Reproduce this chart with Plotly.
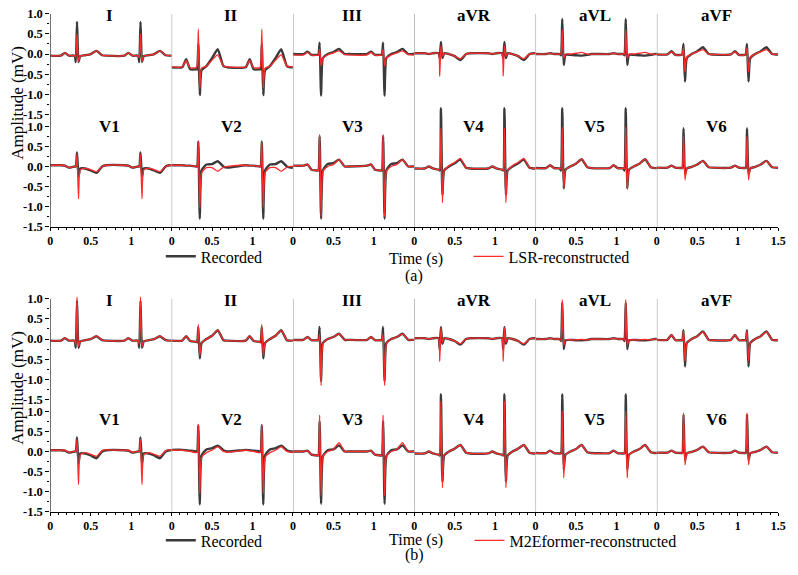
import plotly.graph_objects as go

# ---------------- data ----------------
LEADS = ["I", "II", "III", "aVR", "aVL", "aVF", "V1", "V2", "V3", "V4", "V5", "V6"]
R_TIMES = [0.33, 1.115]          # R-peak times (s) in every panel
# beat landmarks relative to R peak (s): P on, P peak, P end, Q on, Q, R, S, J, ST, T on, T peak, T end, base
OFFSETS = [-0.20, -0.15, -0.10, -0.03, -0.015, 0.0, 0.018, 0.04, 0.10, 0.17, 0.24, 0.31, 0.36]
X_TICKS = [0, 0.5, 1]
X_TICKS_LAST = [0, 0.5, 1, 1.5]
Y_TICKS = [1.0, 0.5, 0.0, -0.5, -1.0, -1.5]
Y_TICK_TEXT = ["1.0", "0.5", "0.0", "-0.5", "-1.0", "-1.5"]

# (a) recorded
REC_A_I = [-0.04, 0.03, -0.04, -0.04, -0.2, 0.8, -0.2, -0.05, -0.03, 0.0, 0.08, -0.03, -0.04]
REC_A_II = [-0.33, -0.13, -0.38, -0.38, -0.38, 0.25, -1.02, -0.4, -0.3, -0.1, 0.12, -0.3, -0.33]
REC_A_III = [0.0, 0.06, -0.02, -0.02, -0.02, 0.28, -1.03, -0.1, 0.0, 0.05, 0.13, 0.0, 0.0]
REC_A_aVR = [0.02, 0.0, 0.02, 0.02, -0.1, 0.3, -0.1, 0.02, 0.0, -0.05, -0.15, 0.0, 0.02]
REC_A_aVL = [0.0, 0.02, 0.0, 0.0, -0.03, 0.87, -0.27, -0.02, -0.02, -0.03, -0.04, -0.02, 0.0]
REC_A_aVF = [-0.01, 0.07, -0.02, -0.02, 0.0, 0.25, -0.68, -0.1, 0.0, 0.07, 0.17, 0.0, -0.01]
REC_A_V1 = [0.03, 0.02, -0.03, 0.0, 0.0, 0.35, -0.25, -0.05, -0.05, -0.1, -0.16, 0.0, 0.03]
REC_A_V2 = [0.03, 0.02, 0.02, 0.0, 0.0, 0.62, -1.3, -0.1, 0.05, 0.06, 0.13, 0.0, -0.03]
REC_A_V3 = [0.02, 0.05, -0.08, -0.1, -0.1, 0.75, -1.3, -0.1, 0.06, 0.08, 0.17, 0.0, 0.0]
REC_A_V4 = [-0.05, 0.0, -0.05, -0.08, -0.1, 1.45, -0.7, -0.1, 0.0, 0.08, 0.17, -0.03, -0.05]
REC_A_V5 = [-0.04, 0.03, -0.04, -0.05, -0.1, 1.45, -0.55, -0.08, 0.0, 0.07, 0.18, -0.02, -0.04]
REC_A_V6 = [-0.03, 0.02, -0.03, -0.04, -0.04, 0.95, -0.2, -0.05, -0.01, 0.05, 0.14, -0.02, -0.03]

# (a) LSR-reconstructed
LSR_I = [-0.04, 0.03, -0.04, -0.04, -0.08, 0.5, -0.18, -0.05, -0.03, 0.0, 0.08, -0.03, -0.04]
LSR_II = [-0.32, -0.16, -0.34, -0.34, -0.3, 0.62, -0.85, -0.35, -0.3, -0.15, -0.02, -0.3, -0.32]
LSR_III = [-0.02, 0.04, -0.03, -0.03, -0.03, 0.12, -0.3, -0.1, -0.02, 0.03, 0.08, -0.01, -0.02]
LSR_aVR = [0.02, 0.0, 0.02, 0.02, -0.55, 0.2, -0.05, 0.02, 0.0, -0.05, -0.12, 0.0, 0.02]
LSR_aVL = [0.0, 0.02, 0.0, 0.0, 0.0, 0.6, -0.1, 0.0, 0.0, 0.02, 0.04, 0.0, 0.0]
LSR_aVF = [-0.01, 0.06, -0.02, -0.02, 0.0, 0.15, -0.45, -0.08, 0.0, 0.06, 0.11, 0.0, -0.01]
LSR_V1 = [0.03, 0.02, -0.03, 0.0, 0.0, 0.3, -0.8, -0.08, -0.05, -0.08, -0.13, 0.0, 0.03]
LSR_V2 = [0.03, 0.02, 0.02, 0.0, 0.0, 0.62, -1.02, -0.15, -0.03, -0.03, -0.12, -0.02, 0.0]
LSR_V3 = [0.02, 0.05, -0.08, -0.1, -0.1, 0.8, -1.25, -0.12, 0.0, 0.05, 0.17, 0.0, 0.0]
LSR_V4 = [-0.05, 0.0, -0.05, -0.08, -0.1, 0.95, -0.9, -0.1, 0.02, 0.1, 0.2, -0.03, -0.05]
LSR_V5 = [-0.04, 0.03, -0.04, -0.05, -0.05, 0.98, -0.55, -0.08, 0.0, 0.07, 0.18, -0.02, -0.04]
LSR_V6 = [-0.03, 0.02, -0.03, -0.04, -0.04, 0.75, -0.33, -0.05, -0.01, 0.05, 0.14, -0.02, -0.03]

# (b) recorded
REC_B_I = [-0.04, 0.02, -0.04, -0.04, -0.22, 0.95, -0.22, -0.06, -0.03, 0.0, 0.07, -0.03, -0.04]
REC_B_II = [-0.04, 0.07, -0.05, -0.07, -0.08, 0.3, -0.48, -0.1, 0.0, 0.08, 0.22, -0.03, -0.04]
REC_B_III = [-0.02, 0.05, -0.03, -0.03, -0.03, 0.3, -1.05, -0.1, 0.0, 0.05, 0.13, -0.02, -0.02]
REC_B_aVR = [0.02, 0.0, 0.02, 0.02, -0.25, 0.3, -0.12, 0.02, 0.0, -0.05, -0.14, 0.0, 0.02]
REC_B_aVL = [0.0, 0.02, 0.0, 0.0, -0.05, 0.9, -0.25, -0.03, -0.02, -0.03, -0.03, -0.02, 0.0]
REC_B_aVF = [-0.02, 0.1, -0.03, -0.03, -0.03, 0.22, -0.68, -0.1, 0.0, 0.07, 0.19, -0.02, -0.03]
REC_B_V1 = [0.03, 0.02, -0.03, 0.0, 0.0, 0.35, -0.3, -0.05, -0.05, -0.1, -0.17, 0.0, 0.03]
REC_B_V2 = [0.04, 0.03, 0.02, 0.0, 0.0, 0.65, -1.32, -0.1, 0.05, 0.08, 0.14, 0.03, 0.0]
REC_B_V3 = [0.0, 0.02, -0.08, -0.1, -0.1, 0.75, -1.3, -0.12, 0.03, 0.05, 0.15, 0.0, 0.0]
REC_B_V4 = [-0.05, 0.0, -0.05, -0.08, -0.1, 1.42, -0.75, -0.1, 0.0, 0.07, 0.16, -0.03, -0.05]
REC_B_V5 = [-0.04, 0.02, -0.04, -0.05, -0.05, 1.42, -0.45, -0.08, 0.0, 0.06, 0.16, -0.02, -0.04]
REC_B_V6 = [-0.03, 0.02, -0.03, -0.04, -0.04, 0.92, -0.22, -0.05, -0.01, 0.04, 0.12, -0.02, -0.03]

# (b) M2Eformer-reconstructed
M2E_I = [-0.04, 0.02, -0.04, -0.04, -0.12, 1.05, -0.18, -0.06, -0.03, 0.0, 0.08, -0.03, -0.04]
M2E_II = [-0.04, 0.07, -0.05, -0.07, -0.08, 0.36, -0.4, -0.1, 0.0, 0.08, 0.22, -0.03, -0.04]
M2E_III = [-0.02, 0.05, -0.03, -0.03, -0.03, 0.12, -1.15, -0.12, 0.0, 0.05, 0.13, -0.02, -0.02]
M2E_aVR = [0.02, 0.0, 0.02, 0.02, -0.55, 0.28, -0.08, 0.02, 0.0, -0.05, -0.12, 0.0, 0.02]
M2E_aVL = [0.0, 0.02, 0.0, 0.0, -0.02, 0.98, -0.15, -0.02, -0.02, -0.02, -0.01, -0.02, 0.0]
M2E_aVF = [-0.02, 0.1, -0.03, -0.03, -0.03, 0.2, -0.55, -0.1, 0.0, 0.07, 0.18, -0.02, -0.03]
M2E_V1 = [0.03, 0.03, -0.02, 0.0, 0.0, 0.3, -0.82, -0.08, -0.03, -0.07, -0.12, 0.02, 0.04]
M2E_V2 = [0.03, 0.02, 0.0, -0.03, -0.03, 0.68, -1.05, -0.15, -0.03, 0.03, 0.12, 0.0, -0.02]
M2E_V3 = [0.0, 0.02, -0.08, -0.1, -0.1, 0.9, -1.1, -0.12, 0.0, 0.05, 0.22, 0.0, 0.0]
M2E_V4 = [-0.05, 0.0, -0.05, -0.08, -0.1, 1.25, -0.9, -0.1, 0.0, 0.07, 0.16, -0.03, -0.05]
M2E_V5 = [-0.04, 0.02, -0.04, -0.05, -0.05, 1.0, -0.65, -0.08, 0.0, 0.06, 0.16, -0.02, -0.04]
M2E_V6 = [-0.03, 0.02, -0.03, -0.04, -0.04, 0.95, -0.33, -0.05, -0.01, 0.04, 0.12, -0.02, -0.03]

REC_A = [REC_A_I, REC_A_II, REC_A_III, REC_A_aVR, REC_A_aVL, REC_A_aVF,
         REC_A_V1, REC_A_V2, REC_A_V3, REC_A_V4, REC_A_V5, REC_A_V6]
REC_B = [REC_B_I, REC_B_II, REC_B_III, REC_B_aVR, REC_B_aVL, REC_B_aVF,
         REC_B_V1, REC_B_V2, REC_B_V3, REC_B_V4, REC_B_V5, REC_B_V6]
LSR = [LSR_I, LSR_II, LSR_III, LSR_aVR, LSR_aVL, LSR_aVF,
       LSR_V1, LSR_V2, LSR_V3, LSR_V4, LSR_V5, LSR_V6]
M2E = [M2E_I, M2E_II, M2E_III, M2E_aVR, M2E_aVL, M2E_aVF,
       M2E_V1, M2E_V2, M2E_V3, M2E_V4, M2E_V5, M2E_V6]

PARTS = [
    dict(rec=REC_A, recon=LSR, recon_name="LSR-reconstructed", label="(a)"),
    dict(rec=REC_B, recon=M2E, recon_name="M2Eformer-reconstructed", label="(b)"),
]

# ---------------- layout geometry (pixels) ----------------
W, H = 798, 575
X_LEFT, COL_W = 48, 123
ROWS_PX = [[(13, 115), (127, 229)], [(302, 404), (416, 518)]]   # (y of 1.0, y of -1.5)
ROW_YMAX = [1.15, 1.65]
TITLE_Y_PX = [[14.5, 127.5], [304, 424]]
AMP_Y_PX = [103, 392]
TIME_Y_PX = [262, 547]
LAB_Y_PX = [279, 562]
LEG_Y_PX = [259, 547]
LEG_TEXT_X = [200, 512]

SERIF = "Liberation Serif"
GRAY = "#3a3a3a"
RED = "#ff2a2a"


def py(px):
    return 1 - px / H


def px_x(px):
    return px / W


def panel_series(tmpl):
    t = [0.0]
    v = [tmpl[0]]
    for r in R_TIMES:
        for o, a in zip(OFFSETS, tmpl):
            t.append(r + o)
            v.append(a)
    t.append(1.5)
    v.append(tmpl[-1])
    return t, v


fig = go.Figure()
layout = dict()
shapes = []
annotations = []
X_TICK_FONT = dict(family=SERIF, size=12, color="black", weight="bold")
Y_TICK_FONT = dict(family=SERIF, size=12.5, color="black", weight="bold")

for p, part in enumerate(PARTS):
    for row in range(2):
        top_px, bot_px = ROWS_PX[p][row]
        ppm = (bot_px - top_px) / 2.5
        ymax = ROW_YMAX[row]
        dom_top = top_px - (ymax - 1.0) * ppm
        ydom = [py(bot_px), py(dom_top)]
        for col in range(6):
            n = p * 12 + row * 6 + col + 1
            li = row * 6 + col
            sx = "" if n == 1 else str(n)
            xd = [px_x(X_LEFT + COL_W * col), px_x(X_LEFT + COL_W * (col + 1))]
            bottom = row == 1
            tv = X_TICKS_LAST if col == 5 else X_TICKS
            layout["xaxis" + sx] = dict(
                domain=xd, range=[0, 1.5], anchor="y" + sx, fixedrange=True,
                showgrid=False, zeroline=False, visible=bottom,
                showline=bottom, linecolor="black", linewidth=1,
                ticks="outside" if bottom else "", ticklen=3, tickcolor="black",
                tickvals=tv, ticktext=[("%g" % v) for v in tv],
                tickfont=X_TICK_FONT, ticklabeloverflow="allow",
                minor=dict(dtick=0.1, tick0=0, ticks="outside" if bottom else "",
                           ticklen=2, tickcolor="black"),
            )
            first = col == 0
            layout["yaxis" + sx] = dict(
                domain=ydom, range=[-1.5, ymax], anchor="x" + sx, fixedrange=True,
                showgrid=False, zeroline=False, showline=False, showticklabels=first,
                ticks="outside" if first else "", ticklen=4, tickcolor="black",
                tickvals=Y_TICKS, ticktext=Y_TICK_TEXT, tickfont=Y_TICK_FONT,
                minor=dict(tickvals=[0.75, 0.25, -0.25, -0.75, -1.25],
                           ticks="outside" if first else "", ticklen=2, tickcolor="black"),
            )
            t, v = panel_series(part["rec"][li])
            fig.add_trace(go.Scatter(
                x=t, y=v, mode="lines", xaxis="x" + sx, yaxis="y" + sx,
                line=dict(color=GRAY, width=2.4, shape="spline", smoothing=0.5),
                name="Recorded", showlegend=(li == 0),
                legend="legend" if p == 0 else "legend3", hoverinfo="skip"))
            t, v = panel_series(part["recon"][li])
            fig.add_trace(go.Scatter(
                x=t, y=v, mode="lines", xaxis="x" + sx, yaxis="y" + sx,
                line=dict(color=RED, width=1.3, shape="spline", smoothing=0.5),
                name=part["recon_name"], showlegend=(li == 0),
                legend="legend2" if p == 0 else "legend4", hoverinfo="skip"))
            annotations.append(dict(
                text=LEADS[li], xref="x" + sx + " domain", x=0.49, xanchor="center",
                yref="paper", y=py(TITLE_Y_PX[p][row]), yanchor="middle", showarrow=False,
                font=dict(family=SERIF, size=17, color="black", weight="bold")))

    # vertical panel separators and left axis line
    span = [py(ROWS_PX[p][1][1]), py(ROWS_PX[p][0][0])]
    for col in range(6):
        n = p * 12 + col + 1
        sx = "" if n == 1 else str(n)
        shapes.append(dict(
            type="line", xref="x" + sx, x0=0, x1=0, yref="paper", y0=span[0], y1=span[1],
            line=dict(color="black" if col == 0 else "#8a8a8a", width=1)))

    annotations.append(dict(
        text="Amplitude (mV)", xref="paper", x=px_x(14.5), xanchor="center",
        yref="paper", y=py(AMP_Y_PX[p]), yanchor="middle", textangle=-90, showarrow=False,
        font=dict(family=SERIF, size=17, color="black")))
    annotations.append(dict(
        text="Time (s)", xref="paper", x=px_x(419), xanchor="center",
        yref="paper", y=py(TIME_Y_PX[p]), yanchor="middle", showarrow=False,
        font=dict(family=SERIF, size=16, color="black")))
    annotations.append(dict(
        text=part["label"], xref="paper", x=px_x(417), xanchor="center",
        yref="paper", y=py(LAB_Y_PX[p]), yanchor="middle", showarrow=False,
        font=dict(family=SERIF, size=16, color="black")))

leg_common = dict(xanchor="left", yanchor="middle", bgcolor="rgba(0,0,0,0)",
                  borderwidth=0, font=dict(family=SERIF, size=16, color="black"),
                  orientation="h", itemclick=False, itemdoubleclick=False)


def leg_x(text_px):
    return (text_px - 40) / W


layout["legend"] = dict(x=leg_x(LEG_TEXT_X[0]), y=py(LEG_Y_PX[0]), **leg_common)
layout["legend2"] = dict(x=leg_x(LEG_TEXT_X[1]), y=py(LEG_Y_PX[0]), **leg_common)
layout["legend3"] = dict(x=leg_x(LEG_TEXT_X[0]), y=py(LEG_Y_PX[1]), **leg_common)
layout["legend4"] = dict(x=leg_x(LEG_TEXT_X[1] + 1), y=py(LEG_Y_PX[1]), **leg_common)

fig.update_layout(
    width=W, height=H, margin=dict(l=0, r=0, t=0, b=0),
    paper_bgcolor="white", plot_bgcolor="rgba(0,0,0,0)",
    shapes=shapes, annotations=annotations, **layout)

fig.write_html("out.html", config={"displayModeBar": False},
               post_script="document.body.style.margin='0';document.body.style.overflow='hidden';")
